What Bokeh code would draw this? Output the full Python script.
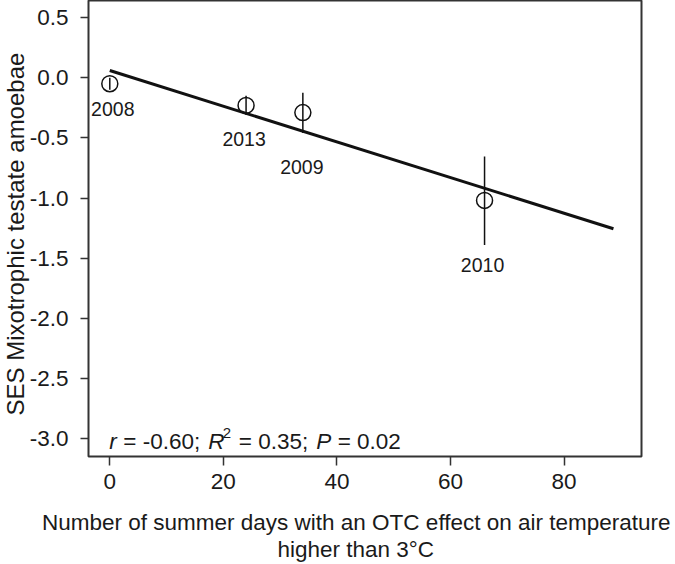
from bokeh.plotting import figure
from bokeh.models import ColumnDataSource, FixedTicker, Range1d, Title
from bokeh.core.properties import value
from bokeh.embed import file_html
from bokeh.resources import INLINE

# ---- data ----
years = ["2008", "2013", "2009", "2010"]
otc_days = [0, 24, 34, 66]
ses_mean = [-0.05, -0.23, -0.29, -1.02]
ses_low = [-0.10, -0.31, -0.46, -1.39]
ses_high = [0.00, -0.15, -0.125, -0.655]

fit_days = [0, 88.7]
fit_ses = [0.06, -1.256]

x_ticks = [0, 20, 40, 60, 80]
y_ticks = [0.5, 0.0, -0.5, -1.0, -1.5, -2.0, -2.5, -3.0]
y_tick_labels = ["0.5", "0.0", "-0.5", "-1.0", "-1.5", "-2.0", "-2.5", "-3.0"]

r_value = -0.60
r2_value = 0.35
p_value = 0.02

x_title_1 = "Number of summer days with an OTC effect on air temperature"
x_title_2 = "higher than 3°C"
y_title = "SES Mixotrophic testate amoebae"

# ---- styles ----
FONT = "Liberation Sans"
TXT = "#1a1a1a"
AX = "#333333"
label_dx = [3, -2, -1, -2]
label_dy = [25, 34, 54, 65]

p = figure(width=675, height=564, output_backend="svg", toolbar_location=None,
           x_range=Range1d(-3.75, 93.64), y_range=Range1d(-3.149, 0.642),
           min_border_left=88, min_border_right=34, min_border_top=0, min_border_bottom=108)
p.background_fill_color = "white"
p.border_fill_color = "white"
p.outline_line_color = AX
p.outline_line_width = 2
p.xgrid.visible = False
p.ygrid.visible = False

for ax in (p.xaxis[0], p.yaxis[0]):
    ax.axis_line_color = None
    ax.major_tick_in = 0
    ax.minor_tick_line_color = None
    ax.major_tick_line_color = AX
    ax.major_tick_line_width = 1.5
    ax.major_label_text_font = FONT
    ax.major_label_text_font_size = "22.5px"
    ax.major_label_text_color = TXT

p.xaxis.ticker = FixedTicker(ticks=x_ticks)
p.xaxis.major_tick_out = 9
p.xaxis.major_label_standoff = 8
# invisible spacer label to push the two-line title down
p.xaxis.axis_label = " "
p.xaxis.axis_label_text_font_size = "1px"
p.xaxis.axis_label_standoff = 12
p.yaxis.ticker = FixedTicker(ticks=y_ticks)
p.yaxis.major_label_overrides = {t: l for t, l in zip(y_ticks, y_tick_labels)}
p.yaxis.major_tick_out = 8
p.yaxis.major_label_standoff = 12

src = ColumnDataSource(dict(x=otc_days, y=ses_mean, lo=ses_low, hi=ses_high,
                            year=years, dx=label_dx, dy=label_dy))

# regression line
p.line(fit_days, fit_ses, line_color="#111111", line_width=3)
# error bars
p.segment(x0="x", y0="lo", x1="x", y1="hi", source=src, line_color="#111111", line_width=1.5)
# points
p.scatter(x="x", y="y", source=src, size=16, marker="circle", fill_color=None,
          line_color="#111111", line_width=1.5)
# year labels
p.text(x="x", y="y", text="year", source=src, x_offset="dx", y_offset="dy",
       text_font=value(FONT), text_font_size="19.5px", text_color=TXT,
       text_align="center", text_baseline="middle")

# statistics line
sx, sy = -0.1, -3.024
normal_parts = [f"= {r_value:.2f};", f"= {r2_value:.2f};", f"= {p_value:.2f}"]
normal_off = [14.1, 129.6, 228.4]
italic_parts = ["r", "R", "P"]
italic_off = [0, 99.1, 207]
p.text(x=[sx] * 3, y=[sy] * 3, text=normal_parts, x_offset=normal_off,
       text_font=value(FONT), text_font_size="22.5px", text_color=TXT,
       text_align="left", text_baseline="alphabetic")
p.text(x=[sx] * 3, y=[sy] * 3, text=italic_parts, x_offset=italic_off,
       text_font=value(FONT), text_font_size="22.5px", text_font_style="italic",
       text_color=TXT, text_align="left", text_baseline="alphabetic")
p.text(x=[sx], y=[sy], text=["2"], x_offset=[113.5], y_offset=[-8],
       text_font=value(FONT), text_font_size="15px", text_color=TXT,
       text_align="left", text_baseline="alphabetic")

# axis titles
t1 = Title(text=x_title_1, align="left", offset=-46.5, standoff=0,
           text_font=FONT, text_font_size="22.5px", text_font_style="normal", text_color=TXT)
t2 = Title(text=x_title_2, align="left", offset=189, standoff=0,
           text_font=FONT, text_font_size="22.5px", text_font_style="normal", text_color=TXT)
p.add_layout(t1, "below")
p.add_layout(t2, "below")
ty = Title(text=y_title, align="left", offset=41, standoff=-4,
           text_font=FONT, text_font_size="24px", text_font_style="normal", text_color=TXT)
p.add_layout(ty, "left")

open("out.html", "w").write(file_html(p, INLINE))
